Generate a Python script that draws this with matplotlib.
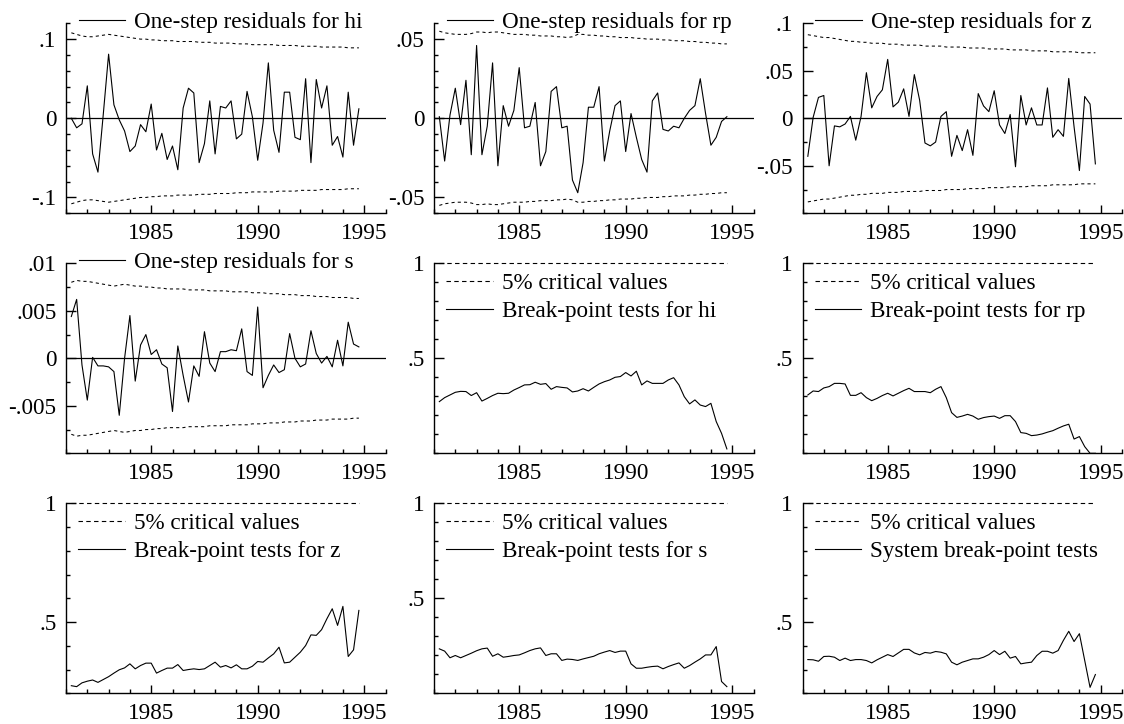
import numpy as np
import matplotlib
matplotlib.use('Agg')
import matplotlib.pyplot as plt
from matplotlib.ticker import MultipleLocator, FixedLocator

FS = 16.7
plt.rcParams['font.family'] = ['Liberation Serif', 'DejaVu Serif']
plt.rcParams['font.size'] = FS

# quarterly observations 1981Q2 .. 1994Q4
quarters = 1981.25 + 0.25 * np.arange(55)
xticks_major = [1985, 1990, 1995]
xtick_labels = ['1985', '1990', '1995']

# one-step residuals
res_hi = [0.000, -0.012, -0.007, 0.041, -0.045, -0.068, 0.005, 0.081, 0.017, -0.002,
          -0.016, -0.042, -0.035, -0.008, -0.017, 0.018, -0.040, -0.019, -0.052, -0.035,
          -0.065, 0.013, 0.038, 0.032, -0.056, -0.032, 0.022, -0.045, 0.015, 0.013,
          0.022, -0.026, -0.020, 0.034, 0.002, -0.053, -0.006, 0.070, -0.015, -0.043,
          0.033, 0.033, -0.024, -0.027, 0.050, -0.056, 0.049, 0.013, 0.041, -0.034,
          -0.023, -0.049, 0.033, -0.034, 0.012]
band_hi = [.108, .106, .104, .103, .103, .104, .105, .106, .105, .104,
           .103, .102, .101, .100, .100, .099, .099, .098, .098, .098,
           .097, .097, .097, .097, .096, .096, .096, .095, .095, .095,
           .095, .094, .094, .094, .093, .093, .093, .093, .093, .092,
           .092, .092, .092, .091, .091, .091, .091, .090, .090, .090,
           .090, .090, .089, .089, .089]

res_rp = [0.001, -0.027, 0.002, 0.019, -0.004, 0.024, -0.023, 0.046, -0.023, -0.005,
          0.035, -0.030, 0.008, -0.005, 0.005, 0.032, -0.006, -0.005, 0.010, -0.030,
          -0.021, 0.017, 0.020, -0.006, -0.005, -0.039, -0.047, -0.028, 0.007, 0.007,
          0.020, -0.027, -0.008, 0.008, 0.011, -0.021, 0.003, -0.012, -0.026, -0.034,
          0.011, 0.016, -0.007, -0.008, -0.005, -0.006, 0.000, 0.005, 0.008, 0.025,
          0.003, -0.017, -0.012, -0.002, 0.001]
band_rp = [.055, .054, .0535, .053, .053, .053, .0535, .0545, .0545, .054,
           .0545, .0545, .054, .0535, .053, .053, .053, .0525, .0525, .052,
           .052, .052, .0515, .0515, .051, .0515, .053, .053, .0525, .0525,
           .052, .052, .0515, .0515, .051, .051, .051, .0505, .0505, .050,
           .050, .050, .0495, .0495, .049, .049, .049, .0485, .0485, .048,
           .048, .0475, .0475, .047, .047]

res_z = [-0.040, 0.001, 0.022, 0.024, -0.050, -0.008, -0.009, -0.006, 0.002, -0.023,
         0.002, 0.048, 0.011, 0.023, 0.030, 0.062, 0.012, 0.017, 0.031, 0.002,
         0.046, 0.019, -0.026, -0.029, -0.025, 0.002, 0.007, -0.040, -0.018, -0.034,
         -0.012, -0.039, 0.026, 0.013, 0.007, 0.029, -0.007, -0.016, 0.004, -0.051,
         0.024, -0.007, 0.011, -0.007, -0.007, 0.032, -0.020, -0.012, -0.019, 0.042,
         -0.009, -0.055, 0.023, 0.015, -0.048]
band_z = [.088, .087, .086, .085, .085, .084, .083, .082, .081, .081,
          .080, .080, .079, .079, .079, .078, .078, .078, .077, .077,
          .077, .077, .076, .076, .076, .076, .075, .075, .075, .075,
          .074, .074, .074, .074, .073, .073, .073, .073, .072, .072,
          .072, .072, .071, .071, .071, .071, .070, .070, .070, .070,
          .070, .069, .069, .069, .069]

res_s = [0.0044, 0.0062, -0.0007, -0.0044, 0.0001, -0.0008, -0.0008, -0.0009, -0.0014, -0.0060,
         0.0000, 0.0045, -0.0024, 0.0014, 0.0025, 0.0004, 0.0009, -0.0006, -0.0010, -0.0056,
         0.0013, -0.0018, -0.0046, -0.0008, -0.0019, 0.0028, -0.0005, -0.0014, 0.0007, 0.0007,
         0.0009, 0.0008, 0.0031, -0.0014, -0.0018, 0.0054, -0.0031, -0.0018, -0.0007, -0.0015,
         -0.0012, 0.0026, 0.0000, -0.0009, -0.0006, 0.0029, 0.0005, -0.0005, 0.0002, -0.0009,
         0.0019, -0.0008, 0.0038, 0.0015, 0.0012]
band_s = [.0080, .0082, .0081, .0081, .0080, .0079, .0078, .0077, .0076, .0077,
          .0078, .0077, .0076, .0076, .0075, .0075, .0074, .0074, .0073, .0073,
          .0073, .0073, .0072, .0072, .0072, .0072, .0071, .0071, .0071, .0071,
          .0070, .0070, .0070, .0070, .0069, .0069, .0069, .0068, .0068, .0068,
          .0067, .0067, .0067, .0066, .0066, .0066, .0065, .0065, .0065, .0064,
          .0064, .0064, .0064, .0063, .0063]

# break-point (N-down) Chow tests scaled by 5% critical values
crit = [1.0] * 55
bp_hi = [0.272, 0.293, 0.307, 0.321, 0.326, 0.325, 0.304, 0.319, 0.275, 0.289,
         0.304, 0.316, 0.314, 0.316, 0.333, 0.346, 0.360, 0.361, 0.374, 0.363,
         0.367, 0.337, 0.351, 0.347, 0.344, 0.323, 0.328, 0.340, 0.328, 0.347,
         0.365, 0.377, 0.386, 0.400, 0.404, 0.425, 0.407, 0.432, 0.360, 0.381,
         0.368, 0.368, 0.368, 0.386, 0.398, 0.360, 0.298, 0.260, 0.281, 0.254,
         0.246, 0.263, 0.167, 0.105, 0.023]
bp_rp = [0.307, 0.328, 0.325, 0.344, 0.351, 0.368, 0.368, 0.365, 0.305, 0.305,
         0.319, 0.293, 0.277, 0.289, 0.304, 0.316, 0.302, 0.316, 0.330, 0.342,
         0.325, 0.325, 0.325, 0.319, 0.337, 0.351, 0.293, 0.214, 0.189, 0.196,
         0.205, 0.196, 0.179, 0.188, 0.193, 0.196, 0.184, 0.198, 0.198, 0.167,
         0.109, 0.105, 0.093, 0.096, 0.102, 0.111, 0.119, 0.132, 0.144, 0.153,
         0.075, 0.088, 0.035, 0.000, 0.000]
bp_z = [0.232, 0.228, 0.244, 0.251, 0.256, 0.246, 0.258, 0.270, 0.285, 0.299,
        0.307, 0.324, 0.303, 0.317, 0.327, 0.327, 0.285, 0.296, 0.306, 0.306,
        0.321, 0.296, 0.300, 0.303, 0.300, 0.303, 0.317, 0.331, 0.310, 0.317,
        0.307, 0.320, 0.303, 0.303, 0.314, 0.334, 0.331, 0.349, 0.366, 0.394,
        0.328, 0.331, 0.352, 0.373, 0.401, 0.446, 0.444, 0.468, 0.514, 0.556,
        0.486, 0.566, 0.355, 0.383, 0.549]
bp_s = [0.234, 0.222, 0.187, 0.199, 0.187, 0.199, 0.211, 0.224, 0.234, 0.238,
        0.195, 0.208, 0.190, 0.194, 0.199, 0.202, 0.213, 0.225, 0.234, 0.239,
        0.199, 0.208, 0.208, 0.173, 0.180, 0.178, 0.173, 0.181, 0.188, 0.195,
        0.208, 0.217, 0.225, 0.215, 0.222, 0.222, 0.155, 0.132, 0.132, 0.137,
        0.141, 0.143, 0.129, 0.141, 0.151, 0.160, 0.132, 0.146, 0.164, 0.181,
        0.202, 0.202, 0.246, 0.062, 0.035]
bp_sys = [0.342, 0.341, 0.335, 0.355, 0.356, 0.352, 0.338, 0.348, 0.338, 0.342,
          0.342, 0.338, 0.328, 0.341, 0.352, 0.363, 0.355, 0.370, 0.385, 0.385,
          0.370, 0.362, 0.372, 0.369, 0.376, 0.373, 0.366, 0.331, 0.320, 0.331,
          0.338, 0.345, 0.345, 0.352, 0.363, 0.380, 0.363, 0.377, 0.348, 0.355,
          0.324, 0.328, 0.331, 0.359, 0.377, 0.377, 0.369, 0.380, 0.423, 0.461,
          0.418, 0.451, 0.338, 0.225, 0.279]

W, H = 1124, 724
fig = plt.figure(figsize=(W / 100, H / 100), dpi=100)

col_left = [66, 434, 802.5]
row_bottom = [213.3, 453.3, 693.3]
ax_w, ax_h = 319.5, 190


def make_ax(r, c):
    return fig.add_axes([col_left[c] / W, 1 - row_bottom[r] / H, ax_w / W, ax_h / H])


def style(ax, ylim, yticks, ylabels, yminor):
    ax.set_xlim(1981, 1996)
    ax.set_ylim(*ylim)
    ax.patch.set_visible(False)
    for s in ['top', 'right']:
        ax.spines[s].set_visible(False)
    for s in ['left', 'bottom']:
        ax.spines[s].set_linewidth(1.0)
    ax.xaxis.set_major_locator(FixedLocator(xticks_major))
    ax.set_xticklabels(xtick_labels)
    ax.xaxis.set_minor_locator(MultipleLocator(1))
    ax.set_yticks(yticks)
    ax.set_yticklabels(ylabels)
    ax.yaxis.set_minor_locator(MultipleLocator(yminor))
    ax.tick_params(axis='both', which='both', direction='in', width=1.0, labelsize=FS)
    ax.tick_params(axis='x', which='major', length=6, pad=7)
    ax.tick_params(axis='x', which='minor', length=3)
    ax.tick_params(axis='y', which='major', length=7, pad=7)
    ax.tick_params(axis='y', which='minor', length=3)


residual_panels = [
    (0, 0, res_hi, band_hi, 'hi', (-0.12, 0.12), [-0.1, 0, 0.1], ['-.1', '0', '.1'], 0.02),
    (0, 1, res_rp, band_rp, 'rp', (-0.06, 0.06), [-0.05, 0, 0.05], ['-.05', '0', '.05'], 0.01),
    (0, 2, res_z, band_z, 'z', (-0.1, 0.1), [-0.05, 0, 0.05, 0.1], ['-.05', '0', '.05', '.1'], 0.025),
    (1, 0, res_s, band_s, 's', (-0.01, 0.01), [-0.005, 0, 0.005, 0.01], ['-.005', '0', '.005', '.01'], 0.0025),
]

for r, c, res, band, name, ylim, yt, yl, ym in residual_panels:
    ax = make_ax(r, c)
    b = np.asarray(band)
    ax.axhline(0, color='k', lw=0.9)
    ax.plot(quarters, b, color='k', lw=0.75, dashes=(3, 3))
    ax.plot(quarters, -b, color='k', lw=0.75, dashes=(3, 3))
    line, = ax.plot(quarters, res, color='k', lw=0.8, label='One-step residuals for ' + name)
    style(ax, ylim, yt, yl, ym)
    ax.legend(handles=[line], loc='center left', bbox_to_anchor=(0.04, 1.005), frameon=False,
              fontsize=FS, handlelength=2.0, handletextpad=0.4, borderpad=0, borderaxespad=0)

break_panels = [
    (1, 1, bp_hi, 'Break-point tests for hi', (0, 1)),
    (1, 2, bp_rp, 'Break-point tests for rp', (0, 1)),
    (2, 0, bp_z, 'Break-point tests for z', (0.2, 1)),
    (2, 1, bp_s, 'Break-point tests for s', (0, 1)),
    (2, 2, bp_sys, 'System break-point tests', (0.2, 1)),
]

for r, c, bp, lab, ylim in break_panels:
    ax = make_ax(r, c)
    l1, = ax.plot(quarters, crit, color='k', lw=0.8, dashes=(4, 3), label='5% critical values', clip_on=False)
    l2, = ax.plot(quarters, bp, color='k', lw=0.8, label=lab)
    style(ax, ylim, [0.5, 1.0], ['.5', '1'], 0.1)
    ax.legend(handles=[l1, l2], loc='upper left', bbox_to_anchor=(0.038, 0.95), frameon=False,
              fontsize=FS, handlelength=2.0, handletextpad=0.4, borderpad=0, borderaxespad=0,
              labelspacing=0.3)

fig.savefig('out.png', dpi=100)
